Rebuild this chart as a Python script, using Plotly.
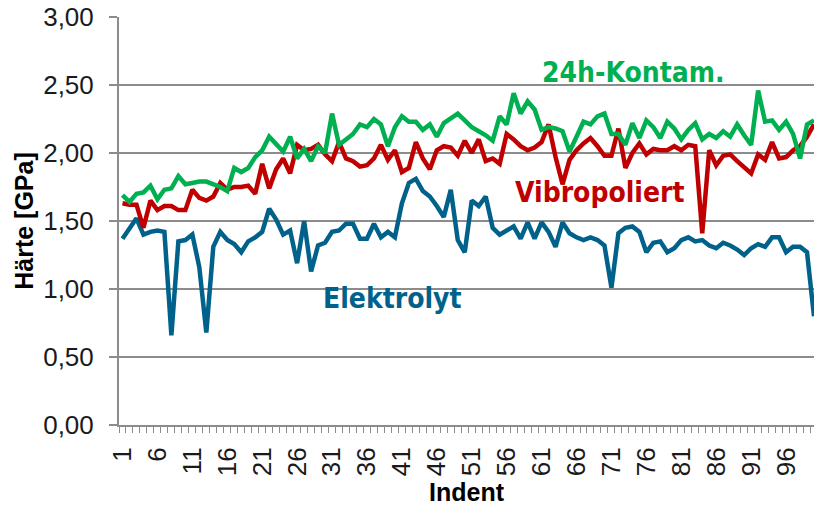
import plotly.graph_objects as go

indent = list(range(1, 101))

elektrolyt = [1.37, 1.45, 1.52, 1.40, 1.42, 1.43, 1.42, 0.66, 1.35, 1.36,
              1.40, 1.16, 0.68, 1.31, 1.42, 1.36, 1.33, 1.27, 1.35, 1.38,
              1.42, 1.59, 1.51, 1.40, 1.43, 1.19, 1.50, 1.13, 1.32, 1.34,
              1.42, 1.43, 1.48, 1.48, 1.37, 1.37, 1.48, 1.38, 1.42, 1.38,
              1.63, 1.78, 1.81, 1.72, 1.68, 1.61, 1.53, 1.73, 1.36, 1.27,
              1.65, 1.61, 1.68, 1.45, 1.40, 1.43, 1.46, 1.37, 1.49, 1.37,
              1.49, 1.42, 1.31, 1.49, 1.41, 1.38, 1.36, 1.38, 1.36, 1.32,
              1.01, 1.41, 1.45, 1.46, 1.42, 1.27, 1.34, 1.35, 1.27, 1.30,
              1.36, 1.38, 1.35, 1.36, 1.32, 1.30, 1.34, 1.32, 1.29, 1.25,
              1.30, 1.33, 1.31, 1.38, 1.38, 1.27, 1.31, 1.31, 1.27, 0.80]

vibropoliert = [1.63, 1.62, 1.62, 1.45, 1.65, 1.58, 1.61, 1.61, 1.58, 1.58,
                1.73, 1.67, 1.65, 1.68, 1.78, 1.73, 1.75, 1.75, 1.76, 1.70,
                1.92, 1.74, 1.88, 1.96, 1.85, 2.06, 2.02, 2.03, 2.06, 1.99,
                1.94, 2.08, 1.96, 1.94, 1.90, 1.91, 1.96, 2.06, 1.95, 2.02,
                1.86, 1.89, 2.08, 1.96, 1.88, 2.02, 2.05, 2.04, 1.98, 2.09,
                2.00, 2.10, 1.94, 1.96, 1.92, 2.14, 2.10, 2.05, 2.02, 2.04,
                2.08, 2.21, 1.97, 1.77, 1.95, 2.02, 2.07, 2.11, 2.05, 1.98,
                1.98, 2.18, 1.89, 2.00, 2.07, 1.99, 2.03, 2.02, 2.02, 2.05,
                2.02, 2.06, 2.05, 1.41, 2.02, 1.91, 1.98, 1.99, 1.94, 1.90,
                1.85, 1.99, 1.95, 2.08, 1.96, 1.97, 2.02, 2.05, 2.12, 2.21]

kontam = [1.69, 1.64, 1.70, 1.71, 1.76, 1.66, 1.73, 1.74, 1.83, 1.77,
          1.78, 1.79, 1.79, 1.77, 1.75, 1.72, 1.89, 1.86, 1.89, 1.97,
          2.02, 2.12, 2.06, 2.01, 2.12, 1.96, 2.03, 1.94, 2.05, 2.00,
          2.29, 2.06, 2.10, 2.14, 2.21, 2.19, 2.25, 2.21, 2.05, 2.19,
          2.27, 2.23, 2.23, 2.17, 2.21, 2.12, 2.22, 2.26, 2.29, 2.24,
          2.19, 2.16, 2.13, 2.09, 2.27, 2.21, 2.44, 2.29, 2.38, 2.32,
          2.17, 2.19, 2.18, 2.16, 2.01, 2.12, 2.23, 2.21, 2.27, 2.29,
          2.14, 2.14, 2.06, 2.22, 2.11, 2.24, 2.19, 2.11, 2.23, 2.18,
          2.10, 2.17, 2.22, 2.10, 2.14, 2.11, 2.16, 2.12, 2.21, 2.13,
          2.06, 2.46, 2.23, 2.24, 2.17, 2.23, 2.14, 1.96, 2.21, 2.24]

x_ticks = list(range(1, 101, 5))
y_ticks = [0, 0.5, 1.0, 1.5, 2.0, 2.5, 3.0]

BLUE = "#00628B"
RED = "#C00000"
GREEN = "#00B050"
GRID = "#8C8C8C"
LABEL_FONT = "DejaVu Sans Condensed, Liberation Sans Narrow, Arial Narrow, sans-serif"

fig = go.Figure()
for name, vals, col in [("Elektrolyt", elektrolyt, BLUE),
                        ("Vibropoliert", vibropoliert, RED),
                        ("24h-Kontam.", kontam, GREEN)]:
    fig.add_trace(go.Scatter(x=indent, y=vals, mode="lines", name=name,
                             line=dict(color=col, width=4.5), showlegend=False))

annots = [("24h-Kontam.", 74.1, 2.59, GREEN),
          ("Vibropoliert", 69.4, 1.71, RED),
          ("Elektrolyt", 39.7, 0.93, BLUE)]
for txt, ax, ay, col in annots:
    fig.add_annotation(x=ax, y=ay, text="<b>" + txt + "</b>", showarrow=False,
                       font=dict(family=LABEL_FONT, size=28, color=col),
                       xanchor="center", yanchor="middle")

fig.update_layout(
    width=814, height=506,
    margin=dict(l=119, r=0, t=17, b=81),
    plot_bgcolor="white", paper_bgcolor="white",
    separators=",.",
    font=dict(family="Liberation Sans, Arial, sans-serif", size=26, color="#1a1a1a"),
)
fig.update_xaxes(
    range=[0.5, 100], tickmode="array", tickvals=x_ticks,
    ticktext=[str(v) for v in x_ticks], tickangle=-90,
    showgrid=False, zeroline=False,
    showline=True, linecolor=GRID, linewidth=2,
    ticks="", ticklabelstandoff=10,
    minor=dict(tickmode="linear", tick0=0.5, dtick=1, ticks="outside",
               ticklen=6, tickcolor=GRID, tickwidth=1, showgrid=False),
    title=dict(text="<b>Indent</b>", font=dict(size=25, color="black"), standoff=8),
    automargin=False,
)
fig.update_yaxes(
    range=[0, 3], tickmode="array", tickvals=y_ticks, tickformat=".2f",
    showgrid=True, gridcolor=GRID, gridwidth=2,
    zeroline=False, showline=True, linecolor=GRID, linewidth=2,
    ticks="outside", ticklen=8, tickcolor=GRID, tickwidth=2,
    ticklabelstandoff=10,
    title=dict(text="<b>Härte [GPa]</b>", font=dict(size=25, color="black"), standoff=2),
    automargin=False,
)

fig.write_html("out.html", config={"displayModeBar": False},
               post_script="document.body.style.margin='0';document.body.style.overflow='hidden';")
